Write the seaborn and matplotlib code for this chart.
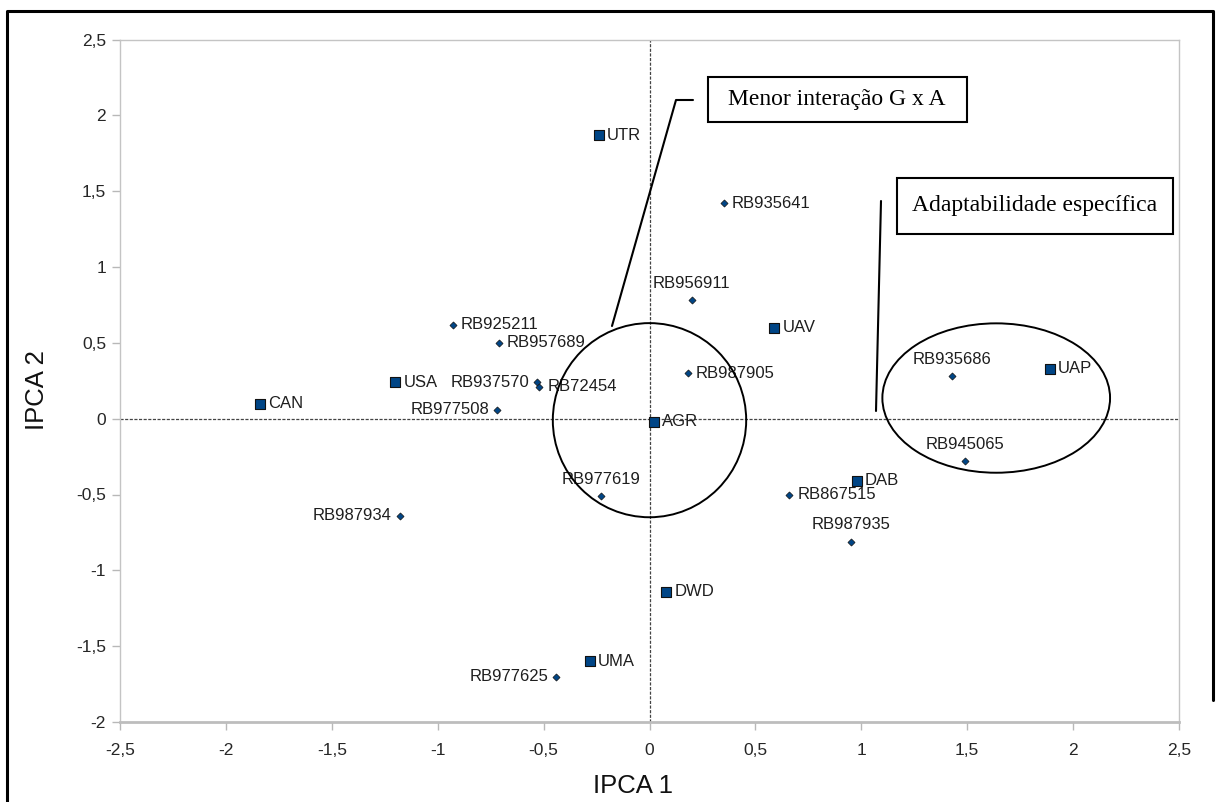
import numpy as np
import pandas as pd
import matplotlib
matplotlib.use("Agg")
import matplotlib.pyplot as plt
import seaborn as sns
from matplotlib.patches import Ellipse, Rectangle
from matplotlib.lines import Line2D
from matplotlib.ticker import FuncFormatter, MultipleLocator

# Environments (AMMI scores)
env_names = ["UTR", "UAV", "UAP", "USA", "CAN", "AGR", "DAB", "DWD", "UMA"]
env_ipca1 = [-0.24, 0.59, 1.89, -1.20, -1.84, 0.02, 0.98, 0.08, -0.28]
env_ipca2 = [1.87, 0.60, 0.33, 0.24, 0.10, -0.02, -0.41, -1.14, -1.60]

# Genotypes (AMMI scores)
gen_names = ["RB935641", "RB956911", "RB925211", "RB957689", "RB937570",
             "RB72454", "RB987905", "RB977508", "RB977619", "RB867515",
             "RB987935", "RB987934", "RB977625", "RB935686", "RB945065"]
gen_ipca1 = [0.35, 0.20, -0.93, -0.71, -0.53, -0.52, 0.18, -0.72, -0.23,
             0.66, 0.95, -1.18, -0.44, 1.43, 1.49]
gen_ipca2 = [1.42, 0.78, 0.62, 0.50, 0.24, 0.21, 0.30, 0.06, -0.51,
             -0.50, -0.81, -0.64, -1.70, 0.28, -0.28]

x_ticks = [-2.5, -2, -1.5, -1, -0.5, 0, 0.5, 1, 1.5, 2, 2.5]
y_ticks = [-2, -1.5, -1, -0.5, 0, 0.5, 1, 1.5, 2, 2.5]

# where each genotype label sits relative to its point
gen_label_side = {
    "RB935641": "r", "RB956911": "a", "RB925211": "r", "RB957689": "r",
    "RB937570": "l", "RB72454": "r", "RB987905": "r", "RB977508": "l",
    "RB977619": "a", "RB867515": "r", "RB987935": "a", "RB987934": "l",
    "RB977625": "l", "RB935686": "a", "RB945065": "a",
}

env_df = pd.DataFrame({"name": env_names, "IPCA1": env_ipca1, "IPCA2": env_ipca2})
gen_df = pd.DataFrame({"name": gen_names, "IPCA1": gen_ipca1, "IPCA2": gen_ipca2})

sns.set_theme(style="white")
plt.rcParams["font.family"] = ["Liberation Sans", "DejaVu Sans"]

W, H = 1220, 802
fig = plt.figure(figsize=(W / 100, H / 100), dpi=100)
fig.patch.set_facecolor("white")


def fx(px):
    return px / W


def fy(py):
    return 1 - py / H


ax = fig.add_axes([fx(120), fy(722), fx(1179) - fx(120), fy(39.5) - fy(722)])

fill = "#004586"
edge = "#111111"
txt = "#1e1e1e"

# zero reference lines
ax.axhline(0, color="#444444", lw=0.9, ls=(0, (2.5, 1.2)), zorder=1)
ax.axvline(0, color="#444444", lw=0.9, ls=(0, (2.5, 1.2)), zorder=1)

sns.scatterplot(data=env_df, x="IPCA1", y="IPCA2", marker="s", s=55,
                color=fill, edgecolor=edge, linewidth=0.8, ax=ax, zorder=3,
                legend=False)
sns.scatterplot(data=gen_df, x="IPCA1", y="IPCA2", marker="D", s=13,
                color=fill, edgecolor=edge, linewidth=0.5, ax=ax, zorder=3,
                legend=False)

for _, r in env_df.iterrows():
    ax.annotate(r["name"], (r["IPCA1"], r["IPCA2"]), xytext=(8, 0),
                textcoords="offset pixels", ha="left", va="center",
                fontsize=12, color=txt, zorder=4)

for _, r in gen_df.iterrows():
    side = gen_label_side[r["name"]]
    if side == "r":
        off, ha, va = (8, 0), "left", "center"
    elif side == "l":
        off, ha, va = (-8, 0), "right", "center"
    else:
        off, ha, va = (0, 17), "center", "center"
    ax.annotate(r["name"], (r["IPCA1"], r["IPCA2"]), xytext=off,
                textcoords="offset pixels", ha=ha, va=va,
                fontsize=12, color=txt, zorder=4)

# highlighted groups
ax.add_patch(Ellipse((0.0, -0.01), 0.913, 1.28, fill=False, ec="black",
                     lw=1.4, zorder=5))
ax.add_patch(Ellipse((1.637, 0.136), 1.075, 0.985, fill=False, ec="black",
                     lw=1.4, zorder=5))

ax.set_xlim(-2.5, 2.5)
ax.set_ylim(-2, 2.5)
ax.set_xticks(x_ticks)
ax.set_yticks(y_ticks)
fmt = FuncFormatter(lambda v, p: f"{v:g}".replace(".", ","))
ax.xaxis.set_major_formatter(fmt)
ax.yaxis.set_major_formatter(fmt)
ax.tick_params(axis="both", which="major", length=6, width=1,
               color="#b8b8b8", labelsize=12.5, labelcolor="#262626",
               direction="out", bottom=True, left=True)
ax.tick_params(axis="x", pad=9)
ax.tick_params(axis="y", pad=4)

for s in ["top", "right", "left"]:
    ax.spines[s].set_color("#c4c4c4")
    ax.spines[s].set_linewidth(1.0)
ax.spines["bottom"].set_color("#bdbdbd")
ax.spines["bottom"].set_linewidth(2.0)

ax.set_xlabel("")
ax.set_ylabel("")
fig.text(fx(633), fy(786), "IPCA 1", ha="center", va="center",
         fontsize=18.5, color="#111111")
fig.text(fx(37), fy(390), "IPCA 2", ha="center", va="center",
         rotation=90, fontsize=18.5, color="#111111")

# callout boxes and leader lines
serif = ["Liberation Serif", "DejaVu Serif"]
fig.add_artist(Rectangle((fx(708), fy(122)), fx(967) - fx(708), fy(77) - fy(122),
                         transform=fig.transFigure, fill=False, ec="black", lw=1.5))
fig.text(fx(837), fy(100), "Menor interação G x A", ha="center", va="center",
         fontsize=17, family=serif, color="black")
fig.add_artist(Line2D([fx(693), fx(676), fx(612)], [fy(100), fy(100), fy(326)],
                      transform=fig.transFigure, color="black", lw=1.5))

fig.add_artist(Rectangle((fx(897), fy(234)), fx(1173) - fx(897), fy(178) - fy(234),
                         transform=fig.transFigure, fill=False, ec="black", lw=1.5))
fig.text(fx(1035), fy(205), "Adaptabilidade específica", ha="center", va="center",
         fontsize=17, family=serif, color="black")
fig.add_artist(Line2D([fx(881), fx(876)], [fy(201), fy(411)],
                      transform=fig.transFigure, color="black", lw=1.5))

# outer frame
fig.add_artist(Line2D([fx(7), fx(7), fx(1213), fx(1213)],
                      [fy(802), fy(10.5), fy(10.5), fy(700)],
                      transform=fig.transFigure, color="black", lw=2.2))

fig.savefig("out.png", dpi=100)
